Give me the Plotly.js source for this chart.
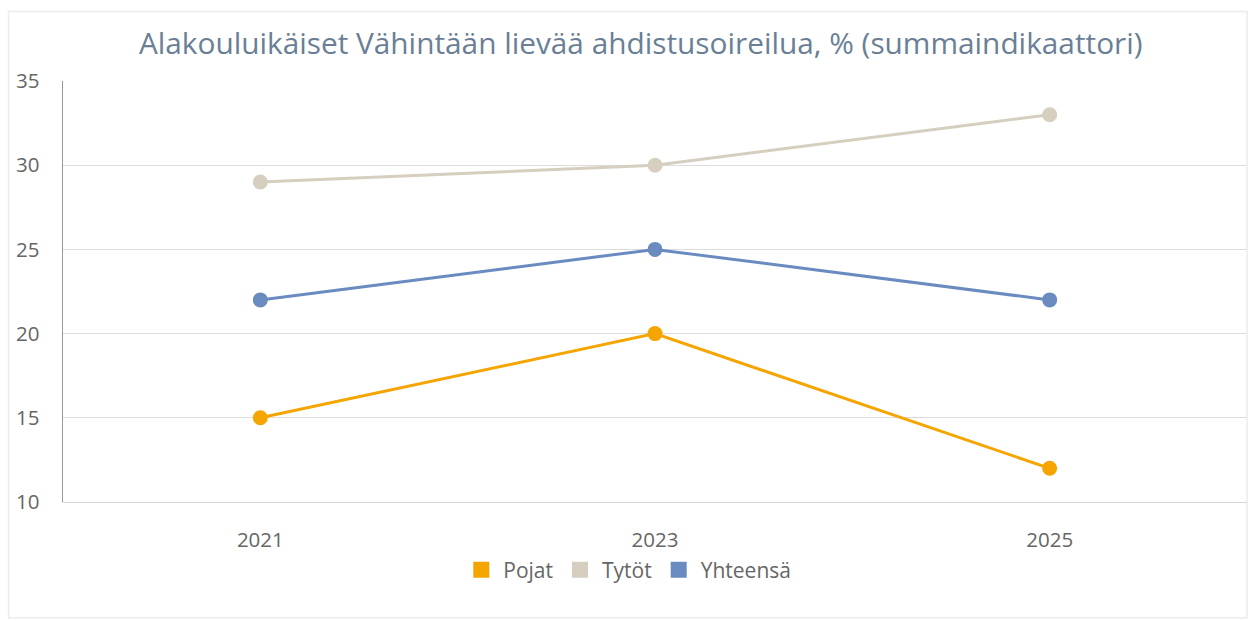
<!DOCTYPE html>
<html>
<head>
<meta charset="utf-8">
<script src="https://cdn.plot.ly/plotly-3.0.1.min.js"></script>
<style>
html,body{margin:0;padding:0;background:#fff;}
#chart{width:1249px;height:621px;}
</style>
</head>
<body>
<div id="chart"></div>
<script>
const years = ['2021', '2023', '2025'];
const pojat = [15, 20, 12];
const tytot = [29, 30, 33];
const yhteensa = [22, 25, 22];
const seriesNames = ['Pojat', 'Tytöt', 'Yhteensä'];
const seriesColors = ['#f5a500', '#d6cfbf', '#6a8bbf'];
const seriesValues = [pojat, tytot, yhteensa];

const traces = [];
seriesValues.forEach((vals, i) => {
  traces.push({
    x: years, y: vals, type: 'scatter', mode: 'lines+markers',
    name: seriesNames[i], showlegend: false, legendgroup: seriesNames[i],
    line: {color: seriesColors[i], width: 3},
    marker: {color: seriesColors[i], size: 15}
  });
});
seriesValues.forEach((vals, i) => {
  traces.push({
    x: [null], y: [null], type: 'scatter', mode: 'markers',
    name: seriesNames[i], legendgroup: seriesNames[i],
    marker: {color: seriesColors[i], size: 18, symbol: 'square'}
  });
});

const layout = {
  width: 1249, height: 621,
  paper_bgcolor: '#fff', plot_bgcolor: '#fff',
  margin: {l: 63, r: 2, t: 81, b: 119},
  font: {family: 'Open Sans, sans-serif', color: '#666', size: 20.5},
  title: {text: 'Alakouluikäiset Vähintään lievää ahdistusoireilua, % (summaindikaattori)',
    x: 0.513, xanchor: 'center', y: 0.93, yanchor: 'middle',
    font: {size: 29.8, color: '#6a7f96', family: 'Open Sans, sans-serif'}},
  xaxis: {type: 'category', range: [-0.5, 2.5], showgrid: false, showline: true,
    linecolor: '#d9d9d9', linewidth: 1, ticks: '', ticklabelstandoff: 19,
    tickfont: {size: 20.5, color: '#666'}, zeroline: false},
  yaxis: {range: [10, 35], dtick: 5, showgrid: true, gridcolor: '#dcdcdc', gridwidth: 1,
    showline: true, linecolor: '#999', linewidth: 1.5, ticks: '', ticklabelstandoff: 18,
    tickfont: {size: 20.5, color: '#666'}, zeroline: false},
  legend: {orientation: 'h', x: 0.477, xanchor: 'center', y: -0.162, yanchor: 'middle',
    font: {size: 21, color: '#666'}, itemwidth: 34, traceorder: 'normal'},
  shapes: [{type: 'rect', xref: 'paper', yref: 'paper', x0: -0.046, x1: 1.0, y0: -0.275, y1: 1.165,
    line: {color: '#ececec', width: 1.5}, layer: 'below'}],
  showlegend: true
};

Plotly.newPlot('chart', traces, layout, {displayModeBar: false, staticPlot: true});
</script>
</body>
</html>
